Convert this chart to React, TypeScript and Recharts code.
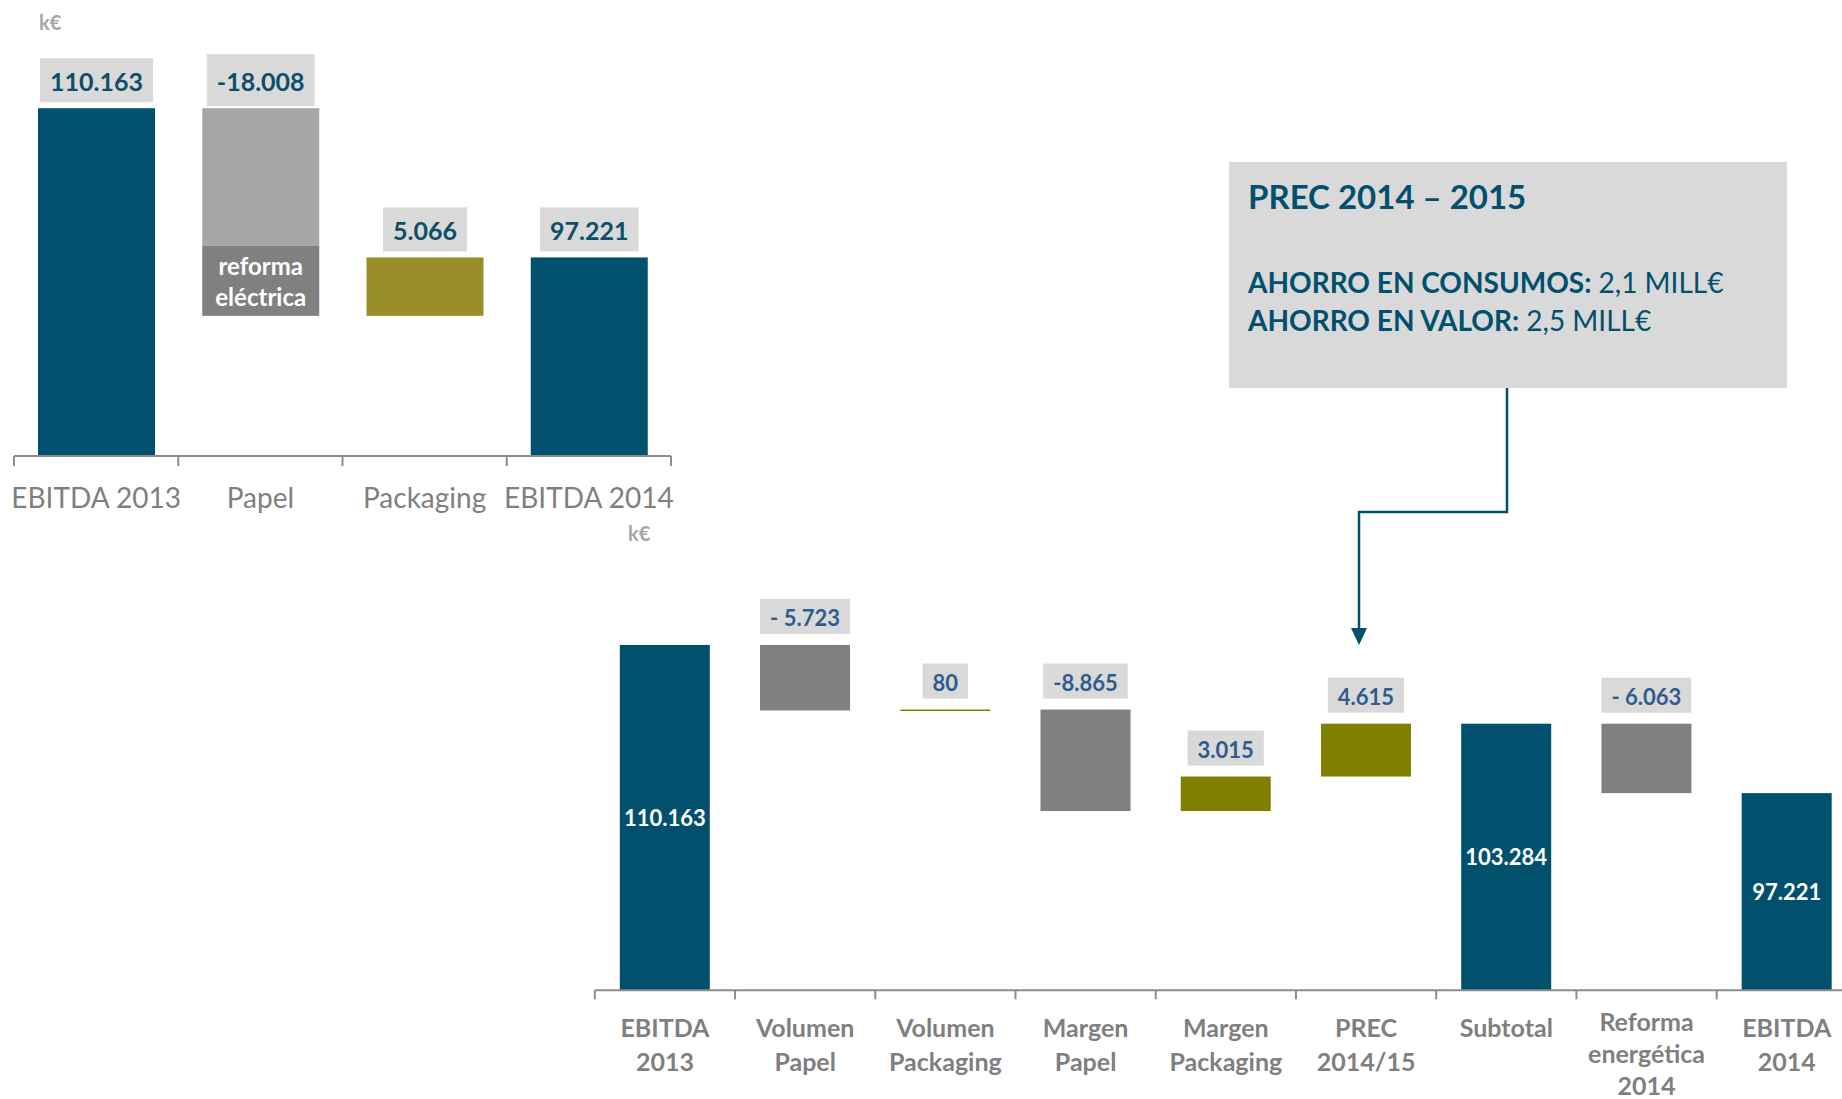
import React from 'react';
import { BarChart, Bar, XAxis, YAxis } from 'recharts';

// ---------- DATA ----------
const topCategories = ['EBITDA 2013', 'Papel', 'Packaging', 'EBITDA 2014'];
const topValues = [110163, -18008, 5066, 97221];
const topKinds = ['total', 'delta', 'delta', 'total'];
const topReforma = [0, -6063, 0, 0];
const topLabels = ['110.163', '-18.008', '5.066', '97.221'];

const bottomCategories = [
  'EBITDA\n2013',
  'Volumen\nPapel',
  'Volumen\nPackaging',
  'Margen\nPapel',
  'Margen\nPackaging',
  'PREC\n2014/15',
  'Subtotal',
  'Reforma\nenergética\n2014',
  'EBITDA\n2014',
];
const bottomValues = [110163, -5723, 80, -8865, 3015, 4615, 103284, -6063, 97221];
const bottomKinds = ['total', 'delta', 'delta', 'delta', 'delta', 'delta', 'total', 'delta', 'total'];
const bottomLabels = ['110.163', '- 5.723', '80', '-8.865', '3.015', '4.615', '103.284', '- 6.063', '97.221'];

const unitLabel = 'k€';
const calloutTitle = 'PREC 2014 – 2015';
const calloutLines = [
  { bold: 'AHORRO EN CONSUMOS:', normal: ' 2,1 MILL€' },
  { bold: 'AHORRO EN VALOR:', normal: ' 2,5 MILL€' },
];

const AXIS_DOMAIN: [number, number] = [80000, 112000];

// ---------- STYLE ----------
const FONT = "Lato, 'Open Sans', 'DejaVu Sans', sans-serif";
const TEAL = '#00506e';
const DARK_TEXT = '#0d4e6a';
const BLUE_TEXT = '#2f5b8f';
const BOX_FILL = '#d9d9d9';
const AXIS_GRAY = '#8c8c8c';
const LABEL_GRAY = '#7f7f7f';

const TOP = { w: 700, h: 540, ml: 14, mr: 29, mt: 87, mb: 24, xh: 60 };
const TOP_BW = (TOP.w - TOP.ml - TOP.mr) / topCategories.length;
const BOT = { left: 560, top: 560, w: 1300, h: 539, ml: 34.8, mr: 3.1, mt: 63.9, mb: 8.7, xh: 100 };
const BOT_BW = (BOT.w - BOT.ml - BOT.mr) / bottomCategories.length;

let measureCtx: CanvasRenderingContext2D | null = null;
function measure(text: string, font: string): number {
  if (!measureCtx) measureCtx = document.createElement('canvas').getContext('2d');
  if (!measureCtx) return text.length * 12;
  measureCtx.font = font;
  return measureCtx.measureText(text).width;
}

type Row = { name: string; range: [number, number]; lo: number; hi: number; kind: string; value: number; split?: number; label: string };

function buildWaterfall(cats: string[], values: number[], kinds: string[], labels: string[], sub?: number[]): Row[] {
  let running = 0;
  return values.map((v, i) => {
    let lo: number, hi: number;
    let split: number | undefined;
    if (kinds[i] === 'total') {
      lo = AXIS_DOMAIN[0];
      hi = v;
      running = v;
    } else {
      const start = running;
      const end = running + v;
      lo = Math.min(start, end);
      hi = Math.max(start, end);
      if (sub && sub[i]) split = end - sub[i];
      running = end;
    }
    return { name: cats[i], range: [lo, hi], lo, hi, kind: kinds[i], value: v, split, label: labels[i] };
  });
}

const topData = buildWaterfall(topCategories, topValues, topKinds, topLabels, topReforma);
const bottomData = buildWaterfall(bottomCategories, bottomValues, bottomKinds, bottomLabels);

// ---------- SHAPES ----------
const TopShape = (props: any) => {
  const { x, y, width, height, payload } = props;
  const p: Row = payload;
  const font = `bold 25px ${FONT}`;
  const tw = measure(p.label, font);
  const bw = tw + 20;
  const bh = p.split !== undefined ? 52 : 44;
  const by = y - (p.split !== undefined ? 2 : 6) - bh;
  let fill = TEAL;
  if (p.kind === 'delta') fill = p.value < 0 ? '#a6a6a6' : '#9a8e2b';
  const els: any[] = [];
  if (p.split !== undefined) {
    const splitY = y + (height * (p.hi - p.split)) / (p.hi - p.lo);
    els.push(<rect key="a" x={x} y={y} width={width} height={splitY - y} fill="#a6a6a6" />);
    els.push(<rect key="b" x={x} y={splitY} width={width} height={y + height - splitY} fill="#808080" />);
    const cy = (splitY + y + height) / 2;
    els.push(
      <text key="t1" x={x + width / 2} y={cy - 15} textAnchor="middle" dominantBaseline="central" fill="#fff" fontFamily={FONT} fontWeight="bold" fontSize={24}>reforma</text>
    );
    els.push(
      <text key="t2" x={x + width / 2} y={cy + 16} textAnchor="middle" dominantBaseline="central" fill="#fff" fontFamily={FONT} fontWeight="bold" fontSize={24}>eléctrica</text>
    );
  } else {
    els.push(<rect key="a" x={x} y={y} width={width} height={height} fill={fill} />);
  }
  return (
    <g>
      {els}
      <rect x={x + width / 2 - bw / 2} y={by} width={bw} height={bh} fill={BOX_FILL} />
      <text x={x + width / 2} y={by + bh / 2 + 1} textAnchor="middle" dominantBaseline="central" fill={DARK_TEXT} fontFamily={FONT} fontWeight="bold" fontSize={25}>
        {p.label}
      </text>
    </g>
  );
};

const BottomShape = (props: any) => {
  const { x, y, width, height, payload } = props;
  const p: Row = payload;
  let fill = TEAL;
  if (p.kind === 'delta') fill = p.value < 0 ? '#808080' : '#808000';
  const h = Math.max(height, 1.5);
  if (p.kind === 'total') {
    return (
      <g>
        <rect x={x} y={y} width={width} height={height} fill={fill} />
        <text x={x + width / 2} y={y + height / 2} textAnchor="middle" dominantBaseline="central" fill="#fff" fontFamily={FONT} fontWeight="bold" fontSize={22}>
          {p.label}
        </text>
      </g>
    );
  }
  const font = `bold 22px ${FONT}`;
  const tw = measure(p.label, font);
  const bw = tw + 20;
  const bh = 35;
  const by = y - 11 - bh;
  return (
    <g>
      <rect x={x} y={y} width={width} height={h} fill={fill} />
      <rect x={x + width / 2 - bw / 2} y={by} width={bw} height={bh} fill={BOX_FILL} />
      <text x={x + width / 2} y={by + bh / 2 + 1} textAnchor="middle" dominantBaseline="central" fill={BLUE_TEXT} fontFamily={FONT} fontWeight="bold" fontSize={22}>
        {p.label}
      </text>
    </g>
  );
};

// ---------- TICKS ----------
const TopTick = (props: any) => {
  const { x, y, payload } = props;
  const half = TOP_BW / 2;
  const last = payload.index === topCategories.length - 1;
  return (
    <g>
      <line x1={x - half} x2={x - half} y1={y} y2={y + 10} stroke={AXIS_GRAY} strokeWidth={2} />
      {last && <line x1={x + half} x2={x + half} y1={y} y2={y + 10} stroke={AXIS_GRAY} strokeWidth={2} />}
      <text x={x} y={y + 41} textAnchor="middle" dominantBaseline="central" fill={LABEL_GRAY} fontFamily={FONT} fontSize={28}>
        {payload.value}
      </text>
    </g>
  );
};

const BottomTick = (props: any) => {
  const { x, y, payload } = props;
  const half = BOT_BW / 2;
  const last = payload.index === bottomCategories.length - 1;
  const lines = String(payload.value).split('\n');
  const start = lines.length === 3 ? 31 : 37;
  const step = lines.length === 3 ? 32 : 34;
  return (
    <g>
      <line x1={x - half} x2={x - half} y1={y} y2={y + 9} stroke={AXIS_GRAY} strokeWidth={2} />
      {last && <line x1={x + half} x2={x + half} y1={y} y2={y + 9} stroke={AXIS_GRAY} strokeWidth={2} />}
      {lines.map((ln, i) => (
        <text key={i} x={x} y={y + start + i * step} textAnchor="middle" dominantBaseline="central" fill={LABEL_GRAY} fontFamily={FONT} fontWeight="bold" fontSize={25}>
          {ln}
        </text>
      ))}
    </g>
  );
};

// ---------- APP ----------
export default function App() {
  return (
    <div style={{ position: 'absolute', left: 0, top: 0, width: 1842, height: 1099, overflow: 'hidden', background: '#fff', fontFamily: FONT }}>
      <div style={{ position: 'absolute', left: 39, top: 10, color: '#a6a6a6', fontWeight: 'bold', fontSize: 20 }}>{unitLabel}</div>
      <div style={{ position: 'absolute', left: 628, top: 521, color: '#a6a6a6', fontWeight: 'bold', fontSize: 20 }}>{unitLabel}</div>

      <div style={{ position: 'absolute', left: 0, top: 0 }}>
        <BarChart width={TOP.w} height={TOP.h} data={topData} margin={{ top: TOP.mt, right: TOP.mr, bottom: TOP.mb, left: TOP.ml }}>
          <YAxis hide domain={AXIS_DOMAIN} type="number" />
          <XAxis
            dataKey="name"
            interval={0}
            height={TOP.xh}
            tickLine={false}
            tickSize={0}
            tickMargin={0}
            axisLine={{ stroke: AXIS_GRAY, strokeWidth: 2 }}
            tick={(p: any) => <TopTick {...p} />}
          />
          <Bar dataKey="range" barSize={117} isAnimationActive={false} shape={(p: any) => <TopShape {...p} />} />
        </BarChart>
      </div>

      <div style={{ position: 'absolute', left: BOT.left, top: BOT.top }}>
        <BarChart width={BOT.w} height={BOT.h} data={bottomData} margin={{ top: BOT.mt, right: BOT.mr, bottom: BOT.mb, left: BOT.ml }}>
          <YAxis hide domain={AXIS_DOMAIN} type="number" />
          <XAxis
            dataKey="name"
            interval={0}
            height={BOT.xh}
            tickLine={false}
            tickSize={0}
            tickMargin={0}
            axisLine={{ stroke: AXIS_GRAY, strokeWidth: 2 }}
            tick={(p: any) => <BottomTick {...p} />}
          />
          <Bar dataKey="range" barSize={90} isAnimationActive={false} shape={(p: any) => <BottomShape {...p} />} />
        </BarChart>
      </div>

      <svg width={1842} height={1099} style={{ position: 'absolute', left: 0, top: 0, pointerEvents: 'none' }}>
        <rect x={1229} y={162} width={558} height={226} fill={BOX_FILL} />
        <text x={1248} y={196} fill={TEAL} fontFamily={FONT} fontWeight="bold" fontSize={33} dominantBaseline="central">
          {calloutTitle}
        </text>
        {calloutLines.map((ln, i) => (
          <text key={i} x={1248} y={282 + i * 38} fill={TEAL} fontFamily={FONT} fontSize={28} dominantBaseline="central">
            <tspan fontWeight="bold">{ln.bold}</tspan>
            <tspan>{ln.normal}</tspan>
          </text>
        ))}
        <path d="M1507 388 V512 H1359 V630" fill="none" stroke={TEAL} strokeWidth={2.5} />
        <polygon points="1351,628 1367,628 1359,645" fill={TEAL} />
      </svg>
    </div>
  );
}
